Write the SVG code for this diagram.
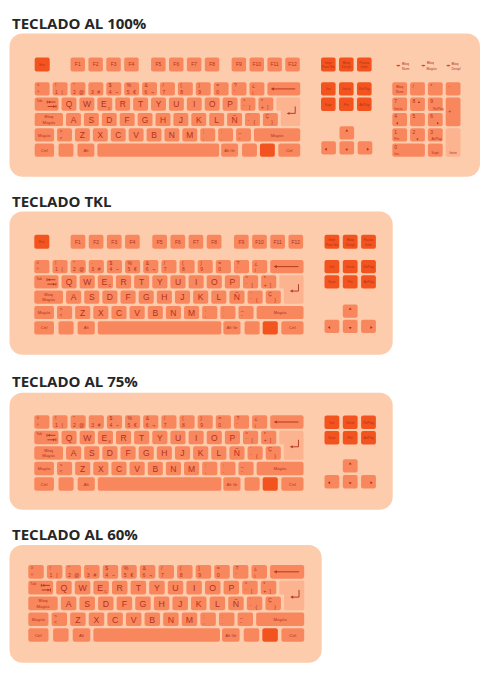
<svg xmlns="http://www.w3.org/2000/svg" width="489" height="686" viewBox="0 0 489 686">
<style>
rect{rx:2px}
.bg{rx:0}
.p{fill:#FDCCAD;rx:13px}
.k{fill:#F8875E}
.d{fill:#F3531F}
.l{fill:#FBB390}
.h{font-family:"Open Sans","DejaVu Sans",sans-serif;font-weight:700;font-size:15px;fill:#262626}
.t{font-family:"Liberation Sans",Arial,sans-serif;fill:#B3321A}
.L{font-size:8.5px;text-anchor:middle}
.s{font-size:5px}
.f{font-size:5px;text-anchor:middle}
.m{font-size:4.3px;text-anchor:middle}
.x{font-size:3.5px;text-anchor:middle}
.xl{font-size:3.5px}
.a{stroke:#B3321A;stroke-width:0.9;fill:none}
.ah{fill:#B3321A}
.ind{fill:#E9431A}
</style>
<defs>
<g id="main">
<g class="k">
<rect x="0" y="0" width="15" height="13.4"/><rect x="18" y="0" width="15" height="13.4"/><rect x="36" y="0" width="15" height="13.4"/><rect x="54" y="0" width="15" height="13.4"/><rect x="72" y="0" width="15" height="13.4"/><rect x="90" y="0" width="15" height="13.4"/><rect x="108" y="0" width="15" height="13.4"/><rect x="126" y="0" width="15" height="13.4"/><rect x="144" y="0" width="15" height="13.4"/><rect x="162" y="0" width="15" height="13.4"/><rect x="180" y="0" width="15" height="13.4"/><rect x="198" y="0" width="15" height="13.4"/><rect x="216" y="0" width="15" height="13.4"/><rect x="234" y="0" width="33" height="13.4"/>
<rect x="0" y="15.5" width="24" height="13.4"/><rect x="27" y="15.5" width="15" height="13.4"/><rect x="45" y="15.5" width="15" height="13.4"/><rect x="63" y="15.5" width="15" height="13.4"/><rect x="81" y="15.5" width="15" height="13.4"/><rect x="99" y="15.5" width="15" height="13.4"/><rect x="117" y="15.5" width="15" height="13.4"/><rect x="135" y="15.5" width="15" height="13.4"/><rect x="153" y="15.5" width="15" height="13.4"/><rect x="171" y="15.5" width="15" height="13.4"/><rect x="189" y="15.5" width="15" height="13.4"/><rect x="207" y="15.5" width="15" height="13.4"/><rect x="225" y="15.5" width="15" height="13.4"/>
<rect x="0" y="31" width="28.5" height="13.4"/><rect x="31.5" y="31" width="15" height="13.4"/><rect x="49.5" y="31" width="15" height="13.4"/><rect x="67.5" y="31" width="15" height="13.4"/><rect x="85.5" y="31" width="15" height="13.4"/><rect x="103.5" y="31" width="15" height="13.4"/><rect x="121.5" y="31" width="15" height="13.4"/><rect x="139.5" y="31" width="15" height="13.4"/><rect x="157.5" y="31" width="15" height="13.4"/><rect x="175.5" y="31" width="15" height="13.4"/><rect x="193.5" y="31" width="15" height="13.4"/><rect x="211.5" y="31" width="15" height="13.4"/><rect x="229.5" y="31" width="15" height="13.4"/>
<rect x="0" y="46.5" width="19.5" height="13.4"/><rect x="22.5" y="46.5" width="15" height="13.4"/><rect x="40.5" y="46.5" width="15" height="13.4"/><rect x="58.5" y="46.5" width="15" height="13.4"/><rect x="76.5" y="46.5" width="15" height="13.4"/><rect x="94.5" y="46.5" width="15" height="13.4"/><rect x="112.5" y="46.5" width="15" height="13.4"/><rect x="130.5" y="46.5" width="15" height="13.4"/><rect x="148.5" y="46.5" width="15" height="13.4"/><rect x="166.5" y="46.5" width="15" height="13.4"/><rect x="184.5" y="46.5" width="15" height="13.4"/><rect x="202.5" y="46.5" width="15" height="13.4"/><rect x="220.5" y="46.5" width="46.5" height="13.4"/>
<rect x="0" y="62" width="19.5" height="13.4"/><rect x="24" y="62" width="15" height="13.4"/><rect x="43" y="62" width="17" height="13.4"/><rect x="63" y="62" width="122.5" height="13.4"/><rect x="187.5" y="62" width="17" height="13.4"/><rect x="208.5" y="62" width="15" height="13.4"/><rect x="245" y="62" width="22" height="13.4"/>
</g>
<rect class="d" x="226.5" y="62" width="15" height="13.4"/>
<path class="l" d="M244.5,15.5H265.5Q267,15.5 267,17V42.9Q267,44.4 265.5,44.4H249Q247.5,44.4 247.5,42.9V28.9H244.5Q243,28.9 243,27.4V17Q243,15.5 244.5,15.5Z"/>
<path class="a" d="M240,6.7H262M262,24.5V31.5H256M14.5,20H21M12.6,18.6V21.4M13,24.5H19.5M21.4,23.1V25.9"/>
<polygon class="ah" points="237.5,6.7 240.5,5.1 240.5,8.3"/>
<polygon class="ah" points="253.5,31.5 256.3,30 256.3,33"/>
<polygon class="ah" points="13,20 15.5,18.7 15.5,21.3"/>
<polygon class="ah" points="21,24.5 18.5,23.2 18.5,25.8"/>
<g class="t s">
<text x="2.5" y="5.2">ª</text><text x="2.5" y="11.6">º</text>
<text x="20.5" y="5.2">!</text><text x="20.5" y="11.6">1</text><text x="27" y="11.6">|</text>
<text x="38.5" y="5.2">"</text><text x="38.5" y="11.6">2</text><text x="44.5" y="11.6">@</text>
<text x="56.5" y="5.2">·</text><text x="56.5" y="11.6">3</text><text x="63" y="11.6">#</text>
<text x="74.5" y="5.2">$</text><text x="74.5" y="11.6">4</text><text x="81" y="11.6">~</text>
<text x="92.5" y="5.2">%</text><text x="92.5" y="11.6">5</text><text x="99" y="11.6">€</text>
<text x="110.5" y="5.2">&amp;</text><text x="110.5" y="11.6">6</text><text x="117" y="11.6">¬</text>
<text x="128.5" y="5.2">/</text><text x="128.5" y="11.6">7</text>
<text x="146.5" y="5.2">(</text><text x="146.5" y="11.6">8</text>
<text x="164.5" y="5.2">)</text><text x="164.5" y="11.6">9</text>
<text x="182.5" y="5.2">=</text><text x="182.5" y="11.6">0</text>
<text x="200.5" y="5.2">?</text><text x="200.5" y="11.6">'</text>
<text x="218.5" y="5.2">¿</text><text x="218.5" y="11.6">¡</text>
<text x="209.5" y="20.7">^</text><text x="209.5" y="27.2">`</text><text x="215.5" y="27.2">[</text>
<text x="227.5" y="20.7">*</text><text x="227.5" y="27.2">+</text><text x="233.5" y="27.2">]</text>
<text x="214" y="36.2">¨</text><text x="214" y="42.7">´</text><text x="220" y="42.7">{</text>
<text x="232" y="36.2">Ç</text><text x="238" y="42.7">}</text>
<text x="25" y="51.7">&gt;</text><text x="25" y="58.2">&lt;</text>
<text x="169" y="51.7">;</text><text x="169" y="58.2">,</text>
<text x="187" y="51.7">:</text><text x="187" y="58.2">.</text>
<text x="205" y="51.7">_</text><text x="205" y="58.2">-</text>
</g>
<g class="t L">
<text x="34.5" y="25.5">Q</text><text x="52.5" y="25.5">W</text><text x="69.5" y="25.5">E</text><text x="88.5" y="25.5">R</text><text x="106.5" y="25.5">T</text><text x="124.5" y="25.5">Y</text><text x="142.5" y="25.5">U</text><text x="160.5" y="25.5">I</text><text x="178.5" y="25.5">O</text><text x="196.5" y="25.5">P</text>
<text x="39" y="41">A</text><text x="57" y="41">S</text><text x="75" y="41">D</text><text x="93" y="41">F</text><text x="111" y="41">G</text><text x="129" y="41">H</text><text x="147" y="41">J</text><text x="165" y="41">K</text><text x="183" y="41">L</text><text x="201" y="41">Ñ</text>
<text x="48" y="56.5">Z</text><text x="66" y="56.5">X</text><text x="84" y="56.5">C</text><text x="102" y="56.5">V</text><text x="120" y="56.5">B</text><text x="138" y="56.5">N</text><text x="156" y="56.5">M</text>
</g>
<g class="t m">
<text x="74.8" y="27.6">€</text>
<text x="9.75" y="55">Mayús</text><text x="243.75" y="55">Mayús</text>
<text x="9.75" y="70.4">Ctrl</text><text x="51.5" y="70.4">Alt</text><text x="196" y="70.4">Alt Gr</text><text x="256" y="70.4">Ctrl</text>
<text x="14.25" y="36.6">Bloq</text><text x="14.25" y="41.8">Mayús</text>
</g>
<text class="t xl" x="2" y="20">Tab</text>
</g>
</defs>
<rect class="bg" width="489" height="686" fill="#fff"/>

<g id="teclado-100">
<text class="h" x="12" y="29.3">TECLADO AL 100%</text>
<rect class="p" x="9.5" y="33.5" width="470.5" height="143.2"/>
<use href="#main" transform="translate(34.7,82.3) scale(0.9944,0.987)"/>
<rect class="d" x="34.7" y="57.5" width="15" height="14"/>
<g class="k">
<rect x="70.5" y="57.5" width="14.5" height="14"/><rect x="88.4" y="57.5" width="14.5" height="14"/><rect x="106.3" y="57.5" width="14.5" height="14"/><rect x="124.2" y="57.5" width="14.5" height="14"/><rect x="151.1" y="57.5" width="14.5" height="14"/><rect x="169" y="57.5" width="14.5" height="14"/><rect x="186.9" y="57.5" width="14.5" height="14"/><rect x="204.8" y="57.5" width="14.5" height="14"/><rect x="231.6" y="57.5" width="14.5" height="14"/><rect x="249.5" y="57.5" width="14.5" height="14"/><rect x="267.4" y="57.5" width="14.5" height="14"/><rect x="285.3" y="57.5" width="14.5" height="14"/>
<rect x="339.5" y="126.2" width="14.6" height="13.3"/><rect x="321.3" y="141.3" width="14.6" height="13.3"/><rect x="339.5" y="141.3" width="14.6" height="13.3"/><rect x="357.7" y="141.3" width="14.6" height="13.3"/>
<rect x="392.3" y="82.3" width="14.8" height="13.3"/><rect x="410.1" y="82.3" width="14.8" height="13.3"/><rect x="427.9" y="82.3" width="14.8" height="13.3"/><rect x="445.7" y="82.3" width="14.8" height="13.3"/>
<rect x="392.3" y="97.6" width="14.8" height="13.3"/><rect x="410.1" y="97.6" width="14.8" height="13.3"/><rect x="427.9" y="97.6" width="14.8" height="13.3"/><rect x="445.7" y="97.6" width="14.8" height="28.6"/>
<rect x="392.3" y="112.9" width="14.8" height="13.3"/><rect x="410.1" y="112.9" width="14.8" height="13.3"/><rect x="427.9" y="112.9" width="14.8" height="13.3"/>
<rect x="392.3" y="128.2" width="14.8" height="13.3"/><rect x="410.1" y="128.2" width="14.8" height="13.3"/><rect x="427.9" y="128.2" width="14.8" height="13.3"/>
<rect x="392.3" y="143.5" width="32.6" height="13.3"/><rect x="427.9" y="143.5" width="14.8" height="13.3"/>
</g>
<rect class="l" x="445.7" y="128.2" width="14.8" height="28.6"/>
<g class="d">
<rect x="321" y="57.5" width="14.6" height="14"/><rect x="339" y="57.5" width="14.6" height="14"/><rect x="357" y="57.5" width="14.6" height="14"/>
<rect x="321" y="82.3" width="14.6" height="13.3"/><rect x="339" y="82.3" width="14.6" height="13.3"/><rect x="357" y="82.3" width="14.6" height="13.3"/>
<rect x="321" y="97.6" width="14.6" height="13.3"/><rect x="339" y="97.6" width="14.6" height="13.3"/><rect x="357" y="97.6" width="14.6" height="13.3"/>
</g>
<g class="ind"><rect x="396.3" y="64.8" width="4" height="1.6" rx="0.5"/><rect x="421.3" y="64.8" width="4" height="1.6" rx="0.5"/><rect x="446.3" y="64.8" width="4" height="1.6" rx="0.5"/></g>
<g class="t f">
<text x="77.75" y="66.3">F1</text><text x="95.65" y="66.3">F2</text><text x="113.55" y="66.3">F3</text><text x="131.45" y="66.3">F4</text><text x="158.35" y="66.3">F5</text><text x="176.25" y="66.3">F6</text><text x="194.15" y="66.3">F7</text><text x="212.05" y="66.3">F8</text><text x="238.85" y="66.3">F9</text><text x="256.75" y="66.3">F10</text><text x="274.65" y="66.3">F11</text><text x="292.55" y="66.3">F12</text>
</g>
<g class="t x">
<text x="42.2" y="65.8">Esc</text>
<text x="328.3" y="63.6">Impr</text><text x="328.3" y="68.4">Pant Sis</text><text x="346.3" y="63.6">Bloq</text><text x="346.3" y="68.4">Despl</text><text x="364.3" y="63.6">Pausa</text><text x="364.3" y="68.4">Inter</text>
<text x="328.3" y="90.3">Ins</text><text x="346.3" y="90.3">Inicio</text><text x="364.3" y="90.3">RePág</text>
<text x="328.3" y="105.6">Supr</text><text x="346.3" y="105.6">Fin</text><text x="364.3" y="105.6">AvPág</text>
<text x="399.7" y="88">Bloq</text><text x="399.7" y="92.8">Num</text>
<text x="435.3" y="154">Supr</text><text x="453.1" y="154">Intro</text>
</g>
<g class="t xl">
<text x="402" y="64.6">Bloq</text><text x="402" y="69.6">Num</text>
<text x="427" y="64">Bloq</text><text x="426.5" y="70">Mayús</text>
<text x="451.5" y="64.6">Bloq</text><text x="451.5" y="69.6">Despl</text>
<text x="394.3" y="109.8">Inicio</text><text x="433" y="109.8">RePág</text>
<text x="394.3" y="140.3">Fin</text><text x="431.5" y="140.3">AvPág</text>
<text x="394.3" y="155">Ins</text>
</g>
<g class="t s">
<text x="412.5" y="87.8">/</text><text x="430.3" y="87.8">*</text><text x="448.2" y="87.8">-</text>
<text x="394.3" y="103">7</text><text x="412.5" y="103">8</text><text x="430.3" y="103">9</text><text x="448.2" y="113">+</text>
<text x="394.3" y="118.3">4</text><text x="412.5" y="118.3">5</text><text x="430.3" y="118.3">6</text>
<text x="394.3" y="133.6">1</text><text x="412.5" y="133.6">2</text><text x="430.3" y="133.6">3</text>
<text x="394.3" y="149">0</text>
</g>
<g class="ah">
<polygon points="346.8,129.2 345.3,131.5 348.3,131.5"/><polygon points="345.3,148.8 348.3,148.8 346.8,151.1"/><polygon points="324.6,149.3 326.9,147.8 326.9,150.8"/><polygon points="369.2,149.3 366.9,147.8 366.9,150.8"/>
<polygon points="419,101 417.8,103 420.2,103"/><polygon points="396,123.3 398,122.1 398,124.5"/><polygon points="439,123.3 437,122.1 437,124.5"/><polygon points="416.3,138.4 418.7,138.4 417.5,140.4"/>
</g>
</g>

<g id="teclado-tkl">
<text class="h" x="12" y="206.7">TECLADO TKL</text>
<rect class="p" x="9.5" y="211.5" width="383.2" height="143.3"/>
<use href="#main" transform="translate(34.3,260) scale(1.0083,0.987)"/>
<rect class="d" x="34.3" y="234.8" width="15" height="14"/>
<g class="k">
<rect x="70.6" y="234.8" width="14.7" height="14"/><rect x="88.75" y="234.8" width="14.7" height="14"/><rect x="106.9" y="234.8" width="14.7" height="14"/><rect x="125.05" y="234.8" width="14.7" height="14"/><rect x="152.3" y="234.8" width="14.7" height="14"/><rect x="170.45" y="234.8" width="14.7" height="14"/><rect x="188.6" y="234.8" width="14.7" height="14"/><rect x="206.75" y="234.8" width="14.7" height="14"/><rect x="234" y="234.8" width="14.7" height="14"/><rect x="252.15" y="234.8" width="14.7" height="14"/><rect x="270.3" y="234.8" width="14.7" height="14"/><rect x="288.45" y="234.8" width="14.7" height="14"/>
<rect x="342.8" y="304.5" width="14.8" height="13.3"/><rect x="324.5" y="319.8" width="14.8" height="13.3"/><rect x="342.8" y="319.8" width="14.8" height="13.3"/><rect x="361.1" y="319.8" width="14.8" height="13.3"/>
</g>
<g class="d">
<rect x="324.5" y="234.8" width="14.8" height="14"/><rect x="342.8" y="234.8" width="14.8" height="14"/><rect x="361.1" y="234.8" width="14.8" height="14"/>
<rect x="324.5" y="260" width="14.8" height="13.3"/><rect x="342.8" y="260" width="14.8" height="13.3"/><rect x="361.1" y="260" width="14.8" height="13.3"/>
<rect x="324.5" y="275.3" width="14.8" height="13.3"/><rect x="342.8" y="275.3" width="14.8" height="13.3"/><rect x="361.1" y="275.3" width="14.8" height="13.3"/>
</g>
<g class="t f">
<text x="77.95" y="243.6">F1</text><text x="96.1" y="243.6">F2</text><text x="114.25" y="243.6">F3</text><text x="132.4" y="243.6">F4</text><text x="159.65" y="243.6">F5</text><text x="177.8" y="243.6">F6</text><text x="195.95" y="243.6">F7</text><text x="214.1" y="243.6">F8</text><text x="241.35" y="243.6">F9</text><text x="259.5" y="243.6">F10</text><text x="277.65" y="243.6">F11</text><text x="295.8" y="243.6">F12</text>
</g>
<g class="t x">
<text x="41.8" y="243.1">Esc</text>
<text x="331.9" y="240.9">Impr</text><text x="331.9" y="245.7">Pant Sis</text><text x="350.2" y="240.9">Bloq</text><text x="350.2" y="245.7">Despl</text><text x="368.5" y="240.9">Pausa</text><text x="368.5" y="245.7">Inter</text>
<text x="331.9" y="268">Ins</text><text x="350.2" y="268">Inicio</text><text x="368.5" y="268">RePág</text>
<text x="331.9" y="283.3">Supr</text><text x="350.2" y="283.3">Fin</text><text x="368.5" y="283.3">AvPág</text>
</g>
<g class="ah">
<polygon points="350.2,307.5 348.7,309.8 351.7,309.8"/><polygon points="348.7,327 351.7,327 350.2,329.3"/><polygon points="327.8,327.5 330.1,326 330.1,329"/><polygon points="372.7,327.5 370.4,326 370.4,329"/>
</g>
</g>

<g id="teclado-75">
<text class="h" x="12" y="386.6">TECLADO AL 75%</text>
<rect class="p" x="9.5" y="392.7" width="383.2" height="117"/>
<use href="#main" transform="translate(34.3,415.3) scale(1.0083,1)"/>
<g class="k">
<rect x="342.8" y="459.2" width="14.8" height="13.4"/><rect x="324.5" y="475" width="14.8" height="13.4"/><rect x="342.8" y="475" width="14.8" height="13.4"/><rect x="361.1" y="475" width="14.8" height="13.4"/>
</g>
<g class="d">
<rect x="324.5" y="415.5" width="14.8" height="13.4"/><rect x="342.8" y="415.5" width="14.8" height="13.4"/><rect x="361.1" y="415.5" width="14.8" height="13.4"/>
<rect x="324.5" y="431" width="14.8" height="13.4"/><rect x="342.8" y="431" width="14.8" height="13.4"/><rect x="361.1" y="431" width="14.8" height="13.4"/>
</g>
<g class="t x">
<text x="331.9" y="423.5">Ins</text><text x="350.2" y="423.5">Inicio</text><text x="368.5" y="423.5">RePág</text>
<text x="331.9" y="439">Supr</text><text x="350.2" y="439">Fin</text><text x="368.5" y="439">AvPág</text>
</g>
<g class="ah">
<polygon points="350.2,462.2 348.7,464.5 351.7,464.5"/><polygon points="348.7,482.3 351.7,482.3 350.2,484.6"/><polygon points="327.8,482.8 330.1,481.3 330.1,484.3"/><polygon points="372.7,482.8 370.4,481.3 370.4,484.3"/>
</g>
</g>

<g id="teclado-60">
<text class="h" x="12" y="540">TECLADO AL 60%</text>
<rect class="p" x="9.5" y="545" width="312.2" height="117.7"/>
<use href="#main" transform="translate(28.3,565) scale(1.0333,1.019)"/>
</g>
</svg>
